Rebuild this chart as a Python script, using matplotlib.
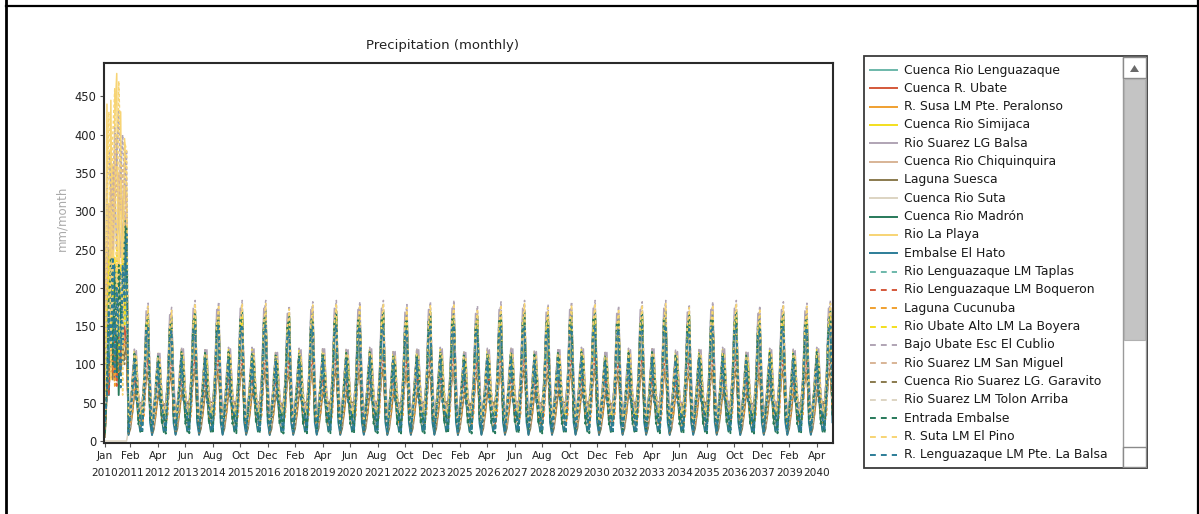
import numpy as np
import matplotlib
matplotlib.use("Agg")
import matplotlib.pyplot as plt
from matplotlib.lines import Line2D
from matplotlib.patches import Rectangle, Polygon

# ---------------- data ----------------
series_names = [
    "Cuenca Rio Lenguazaque", "Cuenca R. Ubate", "R. Susa LM Pte. Peralonso",
    "Cuenca Rio Simijaca", "Rio Suarez LG Balsa", "Cuenca Rio Chiquinquira",
    "Laguna Suesca", "Cuenca Rio Suta", "Cuenca Rio Madrón", "Rio La Playa",
    "Embalse El Hato", "Rio Lenguazaque LM Taplas", "Rio Lenguazaque LM Boqueron",
    "Laguna Cucunuba", "Rio Ubate Alto LM La Boyera", "Bajo Ubate Esc El Cublio",
    "Rio Suarez LM San Miguel", "Cuenca Rio Suarez LG. Garavito",
    "Rio Suarez LM Tolon Arriba", "Entrada Embalse", "R. Suta LM El Pino",
    "R. Lenguazaque LM Pte. La Balsa",
]
base_colors = ["#6cb8aa", "#d4583a", "#f0a030", "#f3df1e", "#b0a4b4", "#d8b496",
               "#8a7a4e", "#ddd4c2", "#27795a", "#f7d474", "#2c7d98"]
series_colors = base_colors + base_colors
series_dashed = [False] * 11 + [True] * 11

# 2010 monthly values (Jan..Dec), mm/month
data_2010 = [
    [20, 100, 150, 90, 160, 120, 180, 100, 170, 130, 200, 150],
    [10, 70, 110, 90, 130, 80, 140, 100, 120, 110, 150, 130],
    [20, 110, 160, 100, 170, 120, 190, 130, 180, 140, 200, 170],
    [40, 220, 150, 260, 120, 240, 200, 130, 230, 180, 260, 200],
    [50, 260, 180, 300, 220, 330, 250, 300, 240, 280, 300, 260],
    [30, 240, 310, 200, 360, 300, 400, 280, 370, 290, 340, 300],
    [5, 60, 90, 110, 80, 120, 100, 110, 90, 120, 110, 130],
    [0, 0, 0, 0, 0, 0, 0, 0, 0, 0, 0, 0],
    [15, 120, 250, 90, 200, 150, 220, 60, 180, 120, 290, 200],
    [90, 440, 60, 445, 120, 420, 480, 90, 430, 150, 395, 330],
    [20, 150, 60, 200, 110, 230, 80, 170, 220, 100, 260, 230],
    [15, 90, 130, 110, 150, 100, 160, 120, 140, 160, 150, 170],
    [12, 80, 60, 120, 90, 130, 70, 140, 100, 120, 130, 140],
    [10, 60, 100, 80, 120, 70, 110, 90, 100, 110, 130, 120],
    [30, 180, 240, 120, 210, 160, 250, 110, 200, 240, 150, 210],
    [40, 320, 380, 330, 300, 410, 360, 430, 340, 400, 330, 380],
    [40, 200, 280, 330, 250, 380, 320, 350, 300, 360, 280, 320],
    [8, 70, 100, 90, 120, 100, 130, 90, 110, 120, 100, 140],
    [20, 120, 180, 140, 200, 160, 220, 150, 210, 180, 200, 190],
    [10, 80, 180, 240, 100, 210, 90, 230, 160, 200, 250, 280],
    [60, 300, 430, 80, 400, 460, 140, 470, 380, 60, 390, 380],
    [25, 60, 170, 120, 240, 90, 200, 140, 70, 230, 180, 270],
]
# monthly climatology 2011-2040 (Jan..Dec), mm/month
clim = [
    [20, 28, 64, 96, 70, 48, 26, 38, 62, 122, 100, 44],
    [18, 30, 44, 70, 82, 34, 24, 22, 50, 88, 108, 36],
    [22, 24, 58, 90, 78, 52, 30, 26, 56, 112, 118, 60],
    [24, 46, 66, 118, 96, 62, 30, 48, 70, 140, 168, 66],
    [30, 40, 88, 112, 118, 58, 44, 46, 90, 170, 160, 90],
    [22, 40, 58, 102, 88, 56, 28, 40, 58, 134, 138, 58],
    [8, 16, 36, 60, 56, 50, 50, 50, 50, 80, 90, 34],
    [14, 20, 48, 68, 70, 30, 16, 28, 40, 96, 94, 48],
    [10, 48, 72, 110, 60, 30, 12, 46, 80, 146, 166, 40],
    [20, 44, 74, 100, 104, 52, 30, 44, 66, 150, 154, 70],
    [8, 30, 66, 96, 100, 54, 14, 40, 60, 130, 156, 24],
    [14, 32, 50, 92, 76, 46, 24, 34, 54, 116, 102, 50],
    [16, 22, 54, 78, 80, 36, 22, 24, 48, 100, 104, 42],
    [18, 24, 36, 70, 58, 34, 20, 22, 34, 88, 86, 38],
    [22, 34, 72, 100, 102, 50, 36, 34, 70, 136, 160, 64],
    [28, 52, 80, 120, 108, 68, 40, 54, 82, 160, 180, 82],
    [18, 30, 64, 92, 94, 44, 30, 30, 64, 122, 142, 54],
    [10, 22, 42, 66, 58, 48, 48, 48, 48, 88, 92, 42],
    [14, 26, 52, 72, 74, 40, 20, 30, 46, 102, 100, 50],
    [14, 38, 78, 114, 100, 22, 36, 10, 70, 156, 158, 30],
    [28, 40, 82, 112, 112, 64, 38, 42, 84, 152, 176, 76],
    [12, 40, 62, 106, 50, 48, 28, 14, 62, 142, 148, 70],
]
# year-to-year scaling 2011..2040
year_factor = [1.00, 0.97, 1.02, 1.01, 1.02, 1.02, 0.98, 1.01, 1.02, 1.01,
               1.02, 0.99, 1.01, 1.02, 0.98, 1.01, 1.02, 0.99, 1.01, 1.02,
               0.98, 1.01, 1.02, 0.99, 1.01, 1.02, 0.98, 1.01, 1.00, 1.02]

tick_labels = ["Jan 2010", "Feb 2011", "Apr 2012", "Jun 2013", "Aug 2014", "Oct 2015",
               "Dec 2016", "Feb 2018", "Apr 2019", "Jun 2020", "Aug 2021", "Oct 2022",
               "Dec 2023", "Feb 2025", "Apr 2026", "Jun 2027", "Aug 2028", "Oct 2029",
               "Dec 2030", "Feb 2032", "Apr 2033", "Jun 2034", "Aug 2035", "Oct 2036",
               "Dec 2037", "Feb 2039", "Apr 2040"]
y_ticks = [0, 50, 100, 150, 200, 250, 300, 350, 400, 450]
month_names = ["Jan", "Feb", "Mar", "Apr", "May", "Jun", "Jul", "Aug", "Sep", "Oct", "Nov", "Dec"]

# build monthly series
values = []
for i in range(len(series_names)):
    s = list(data_2010[i])
    for yf in year_factor:
        s += [c * yf for c in clim[i]]
    values.append(s)
x = np.arange(len(values[0]))

tick_pos = []
for lab in tick_labels:
    m, yv = lab.split()
    tick_pos.append((int(yv) - 2010) * 12 + month_names.index(m))
tick_text = [lab.replace(" ", "\n") for lab in tick_labels]

# ---------------- figure ----------------
W, H = 1199, 514
plt.rcParams['font.family'] = ['DejaVu Sans']
fig = plt.figure(figsize=(W / 100, H / 100), dpi=100)


def fx(px):
    return px / W


def fy(py):
    return 1 - py / H


ax = fig.add_axes([fx(104), fy(443), fx(833) - fx(104), fy(63) - fy(443)])
for i, s in enumerate(values):
    lw = 1.35 if series_colors[i] in ("#27795a", "#2c7d98") else 1.1
    ln, = ax.plot(x, s, color=series_colors[i], lw=lw, zorder=2 + i * 0.01)
    if series_dashed[i]:
        ln.set_dashes([2.0, 1.5])
ax.set_xlim(-0.5, 371.3)
ax.set_ylim(-2.6, 493.7)
ax.set_yticks(y_ticks)
ax.set_yticklabels([str(v) for v in y_ticks], fontsize=8.3, color="#222222")
ax.set_xticks(tick_pos)
ax.set_xticklabels(tick_text, fontsize=7.6, color="#222222")
for t in ax.get_xticklabels():
    t.set_linespacing(1.9)
ax.tick_params(axis="both", direction="out", length=3, width=0.8, color="#555555", pad=2.5)
for sp in ax.spines.values():
    sp.set_linewidth(1.5)
    sp.set_color("#2a2a2a")

fig.text(fx(443), fy(45), "Precipitation (monthly)", ha="center", va="center",
         fontsize=9.5, color="#222222")
fig.text(fx(62), fy(218), "mm/month", ha="center", va="center", rotation=90,
         fontsize=8.5, color="#aaaaaa")

# outer frame
for (x0, y0, x1, y1, lw) in [(6, 0, 6, 514, 2.0), (6, 6, 1197, 6, 1.6), (1197.5, 0, 1197.5, 514, 1.6)]:
    fig.add_artist(Line2D([fx(x0), fx(x1)], [fy(y0), fy(y1)], transform=fig.transFigure,
                          color="black", lw=lw))

# ---------------- legend panel ----------------
lx0, ly0, lx1, ly1 = 864, 56, 1147, 468
lax = fig.add_axes([fx(lx0), fy(ly1), fx(lx1) - fx(lx0), fy(ly0) - fy(ly1)])
lax.set_xlim(0, lx1 - lx0)
lax.set_ylim(ly1 - ly0, 0)
lax.axis("off")
lw_box = lx1 - lx0
lh_box = ly1 - ly0
lax.add_patch(Rectangle((0, 0), lw_box, lh_box, fill=False, ec="#3a3a3a", lw=1.3, clip_on=False))
# scrollbar
sb0, sb1 = 259, 282
lax.add_patch(Rectangle((sb0, 0.5), sb1 - sb0, lh_box - 1, fc="white", ec="#9a9a9a", lw=1.0))
lax.add_patch(Rectangle((sb0, 1), sb1 - sb0, 21, fc="white", ec="#8a8a8a", lw=1.0))
lax.add_patch(Polygon([[sb0 + 7, 16], [sb1 - 7, 16], [(sb0 + sb1) / 2, 9]], closed=True,
                      fc="#6a6a6a", ec="none"))
lax.add_patch(Rectangle((sb0 + 1, 23), sb1 - sb0 - 2, 261, fc="#c4c4c4", ec="#b0b0b0", lw=0.8))
lax.add_patch(Rectangle((sb0, lh_box - 21), sb1 - sb0, 20, fc="white", ec="#8a8a8a", lw=1.0))

for i, name in enumerate(series_names):
    yy = 14 + i * 18.33
    ln = Line2D([6, 33], [yy, yy], color=series_colors[i], lw=1.4)
    if series_dashed[i]:
        ln.set_dashes([3.0, 2.6])
    lax.add_line(ln)
    lax.text(40, yy, name, fontsize=8.9, va="center", ha="left", color="#1a1a1a")

fig.savefig("out.png", dpi=100)
